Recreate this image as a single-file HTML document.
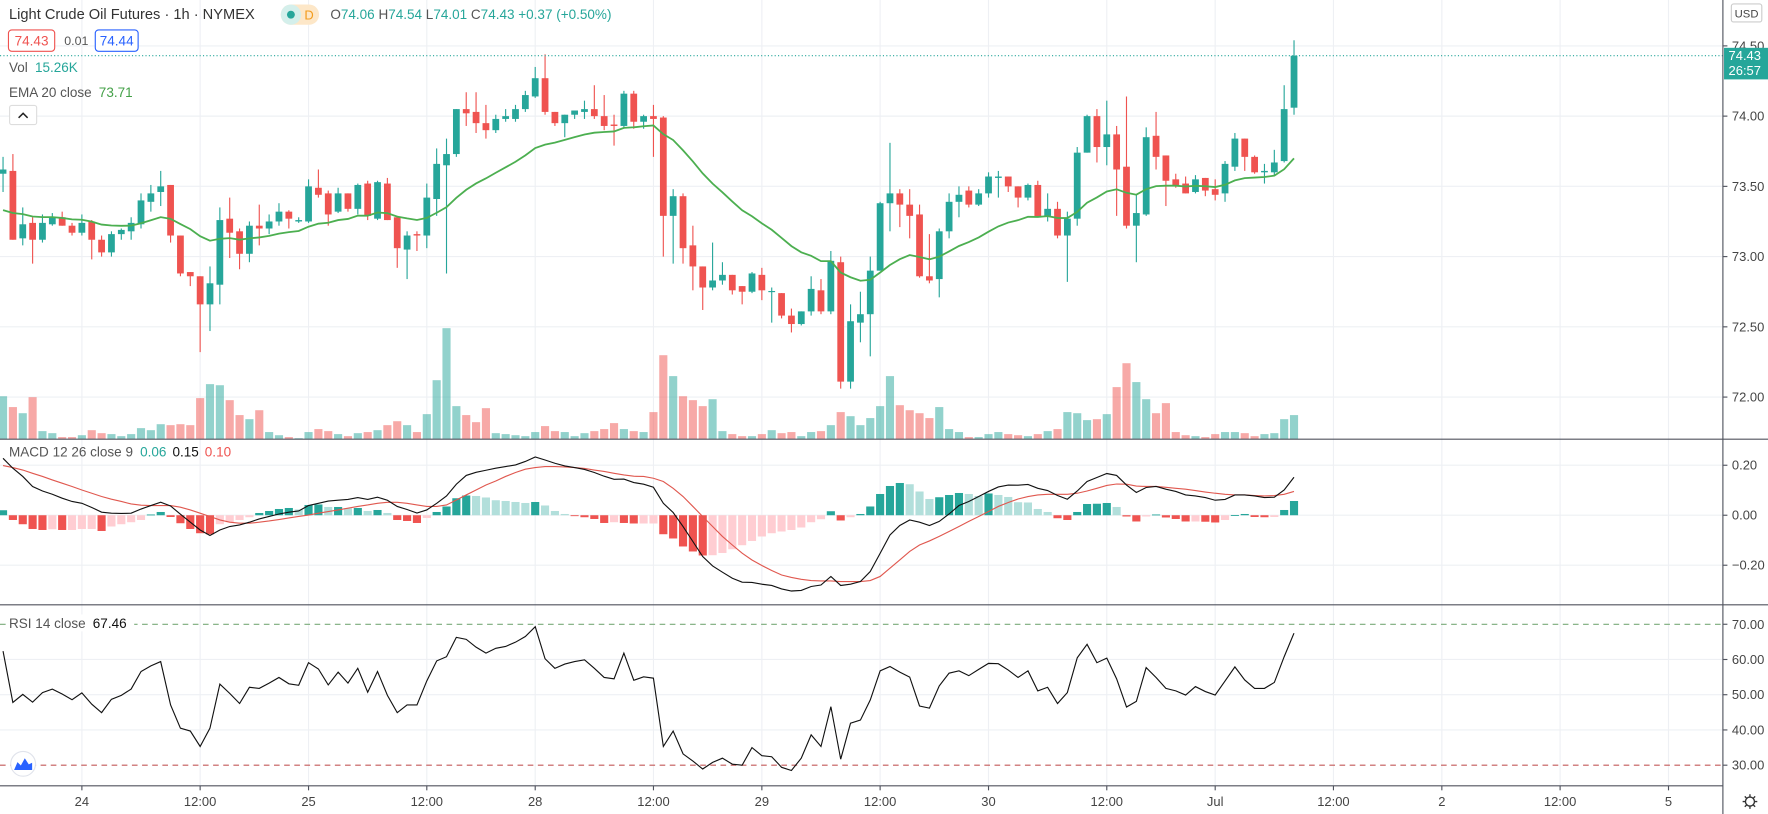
<!DOCTYPE html>
<html><head><meta charset="utf-8"><title>Light Crude Oil Futures</title>
<style>
html,body{margin:0;padding:0;background:#fff;overflow:hidden}
svg{display:block;font-family:"Liberation Sans",sans-serif}
</style></head>
<body>
<svg id="chart" width="1768" height="814" viewBox="0 0 1568 722" preserveAspectRatio="none" xmlns="http://www.w3.org/2000/svg">
<rect x="0" y="0" width="1568" height="722" fill="#ffffff"/>
<g id="grid"></g>
<g id="vol"></g>
<g id="candles"></g>
<g id="ema"></g>
<g id="macd"></g>
<g id="rsi"></g>
<g id="axes"></g>
<g id="legend">
  <text x="8" y="17" font-size="13" fill="#333">Light Crude Oil Futures · 1h · NYMEX</text>
  <rect x="249" y="4" width="34" height="18" rx="9" fill="#fde7c8"/>
  <rect x="249" y="4" width="18" height="18" rx="9" fill="#d4efeb"/>
  <circle cx="258" cy="13" r="3.5" fill="#26a69a"/>
  <text x="270" y="17.5" font-size="11.5" fill="#f29b1b">D</text>
  <text x="293" y="17" font-size="12" fill="#26a69a"><tspan fill="#555">O</tspan>74.06 <tspan fill="#555">H</tspan>74.54 <tspan fill="#555">L</tspan>74.01 <tspan fill="#555">C</tspan>74.43 +0.37 (+0.50%)</text>
  <rect x="7.5" y="26.5" width="41" height="19" rx="3" fill="#fff" stroke="#ef5350"/>
  <text x="28" y="40.5" font-size="12" fill="#ef5350" text-anchor="middle">74.43</text>
  <text x="57" y="40" font-size="11" fill="#555">0.01</text>
  <rect x="84.5" y="26.5" width="38" height="19" rx="3" fill="#fff" stroke="#2962ff"/>
  <text x="103.5" y="40.5" font-size="12" fill="#2962ff" text-anchor="middle">74.44</text>
  <text x="8" y="64" font-size="12" fill="#555">Vol <tspan fill="#26a69a" dx="3">15.26K</tspan></text>
  <text x="8" y="86" font-size="12" fill="#555">EMA 20 close <tspan fill="#43a047" dx="3">73.71</tspan></text>
  <rect x="8.5" y="93.5" width="24" height="17" rx="2" fill="#fff" stroke="#ddd"/>
  <path d="M16.5 104.5 L20.5 100.5 L24.5 104.5" fill="none" stroke="#222" stroke-width="1.3"/>
  <text x="8" y="405" font-size="12" fill="#555">MACD 12 26 close 9 <tspan fill="#26a69a" dx="3">0.06</tspan> <tspan fill="#111" dx="2">0.15</tspan> <tspan fill="#ef5350" dx="2">0.10</tspan></text>
  <rect x="6" y="545" width="113" height="15" fill="#fff"/>
  <text x="8" y="557" font-size="12" fill="#555">RSI 14 close <tspan fill="#111" dx="3">67.46</tspan></text>
  <circle cx="20.5" cy="677.5" r="11" fill="#fff" stroke="#e0e3eb"/>
  <path d="M12.5 683 L15.5 676 L18.5 679 L22 672.5 L25.5 678 L28.5 676.5 L28.5 683 Z" fill="#2962ff"/>
</g>
</svg>
<script>
const opens=[73.59,73.61,73.13,73.24,73.12,73.23,73.28,73.22,73.17,73.25,73.12,73.03,73.16,73.18,73.23,73.39,73.46,73.51,73.15,72.89,72.86,72.66,72.80,73.27,73.18,73.02,73.22,73.20,73.25,73.32,73.25,73.25,73.49,73.45,73.32,73.45,73.34,73.52,73.27,73.52,73.28,73.05,73.16,73.15,73.41,73.65,73.73,74.05,74.03,73.95,73.90,73.98,73.98,74.05,74.14,74.27,74.03,73.95,74.01,74.03,74.05,74.00,73.94,73.93,74.16,73.96,74.00,73.99,73.29,73.43,73.08,72.93,72.78,72.83,72.87,72.79,72.75,72.87,72.75,72.74,72.58,72.52,72.61,72.76,72.61,72.96,72.11,72.53,72.59,72.90,73.38,73.45,73.37,73.30,72.86,72.84,73.18,73.39,73.47,73.37,73.45,73.56,73.57,73.50,73.42,73.51,73.29,73.34,73.15,73.27,73.74,74.00,73.78,73.87,73.64,73.22,73.30,73.86,73.72,73.55,73.52,73.46,73.56,73.48,73.45,73.64,73.84,73.71,73.60,73.60,73.68,74.06];
const highs=[73.71,73.73,73.35,73.28,73.30,73.31,73.32,73.24,73.30,73.26,73.15,73.18,73.20,73.28,73.45,73.51,73.61,73.51,73.15,72.89,72.86,72.93,73.35,73.42,73.20,73.25,73.37,73.30,73.38,73.33,73.28,73.55,73.62,73.47,73.49,73.45,73.52,73.54,73.54,73.56,73.29,73.18,73.18,73.52,73.77,73.84,74.05,74.17,74.17,74.08,74.01,74.05,74.08,74.18,74.35,74.44,74.03,74.01,74.04,74.11,74.22,74.15,74.01,74.18,74.18,74.01,74.08,74.00,73.48,73.45,73.22,72.93,73.10,72.96,72.87,72.79,72.89,72.92,72.78,72.74,72.63,72.61,72.86,72.84,73.04,73.00,72.66,72.75,73.00,73.39,73.81,73.48,73.48,73.37,73.16,73.20,73.45,73.50,73.50,73.48,73.60,73.61,73.57,73.50,73.52,73.54,73.45,73.39,73.32,73.78,74.01,74.05,74.11,73.93,74.14,73.44,73.92,74.03,73.72,73.59,73.57,73.58,73.56,73.55,73.68,73.88,73.84,73.72,73.66,73.76,74.22,74.54];
const lows=[73.46,73.12,73.08,72.95,73.10,73.22,73.22,73.15,73.15,72.98,73.00,73.00,73.12,73.12,73.20,73.32,73.36,73.10,72.86,72.79,72.32,72.47,72.66,72.99,72.91,72.96,73.08,73.16,73.22,73.20,73.24,73.24,73.42,73.22,73.31,73.32,73.30,73.26,73.26,73.26,72.92,72.84,73.04,73.06,73.29,72.88,73.71,73.93,73.88,73.84,73.88,73.96,73.96,74.03,74.13,74.01,73.93,73.85,73.98,73.98,73.98,73.90,73.79,73.92,73.91,73.91,73.71,73.00,72.95,72.95,72.76,72.62,72.76,72.80,72.73,72.66,72.74,72.69,72.53,72.56,72.46,72.51,72.58,72.59,72.59,72.06,72.06,72.39,72.29,72.90,73.18,73.21,73.13,72.85,72.81,72.71,73.13,73.28,73.35,73.36,73.42,73.42,73.46,73.35,73.40,73.28,73.25,73.13,72.82,73.22,73.74,73.67,73.65,73.29,73.20,72.96,73.29,73.62,73.36,73.49,73.45,73.45,73.43,73.40,73.39,73.61,73.61,73.59,73.52,73.58,73.67,74.01];
const closes=[73.62,73.12,73.23,73.12,73.24,73.28,73.22,73.17,73.24,73.12,73.03,73.16,73.19,73.24,73.40,73.45,73.50,73.15,72.88,72.86,72.66,72.81,73.26,73.17,73.02,73.22,73.20,73.25,73.32,73.27,73.26,73.50,73.44,73.30,73.45,73.34,73.51,73.29,73.53,73.26,73.06,73.15,73.15,73.42,73.66,73.73,74.05,74.02,73.95,73.90,73.98,74.00,74.05,74.15,74.27,74.03,73.95,74.01,74.04,74.05,74.00,73.93,73.93,74.16,73.96,74.00,73.98,73.29,73.43,73.06,72.93,72.78,72.83,72.87,72.76,72.75,72.88,72.76,72.755,72.58,72.52,72.61,72.77,72.61,72.97,72.11,72.54,72.59,72.90,73.38,73.45,73.37,73.29,72.86,72.83,73.18,73.39,73.44,73.37,73.45,73.57,73.57,73.50,73.42,73.51,73.28,73.34,73.15,73.27,73.74,74.00,73.78,73.87,73.62,73.22,73.31,73.85,73.71,73.54,73.50,73.45,73.55,73.47,73.44,73.66,73.84,73.71,73.60,73.61,73.67,74.05,74.43];
const volumesK=[27.3,20.4,16.5,26.7,5.1,3.8,1.3,1.3,2.5,5.7,3.8,3.2,1.9,3.2,7.0,5.7,9.5,8.9,9.5,8.9,26.1,35.0,34.3,24.8,15.3,12.7,18.4,4.5,2.5,1.3,0.6,4.5,6.4,5.1,3.2,1.9,3.8,4.5,5.7,8.9,11.4,8.9,4.5,15.9,37.5,70.6,21.0,15.3,10.8,19.7,3.8,3.2,2.5,1.9,4.5,8.3,5.1,4.5,1.9,3.8,5.1,6.4,10.2,6.4,5.1,4.5,17.2,53.4,40.1,27.3,24.8,21.0,25.4,5.1,3.2,1.9,1.9,3.2,5.7,3.8,4.5,1.9,4.5,5.1,8.9,17.2,14.6,8.9,13.4,21.0,40.1,21.6,18.4,16.5,13.4,20.4,6.4,4.5,1.3,1.3,3.2,4.5,3.2,2.5,1.9,3.2,5.1,6.4,17.2,16.5,12.1,12.7,15.9,33.1,48.3,36.3,25.4,16.5,22.9,4.5,2.5,1.9,1.3,3.2,4.5,4.5,3.8,1.9,3.2,3.8,12.7,15.3];
const macdLine=[0.228,0.188,0.155,0.115,0.097,0.084,0.068,0.055,0.048,0.031,0.012,0.008,0.007,0.008,0.025,0.039,0.052,0.037,0.004,-0.028,-0.059,-0.081,-0.059,-0.045,-0.039,-0.028,-0.015,-0.005,0.005,0.012,0.017,0.039,0.048,0.057,0.06,0.063,0.071,0.063,0.072,0.06,0.035,0.023,0.009,0.021,0.048,0.077,0.124,0.159,0.172,0.18,0.188,0.195,0.201,0.215,0.233,0.221,0.208,0.197,0.191,0.183,0.171,0.156,0.144,0.145,0.131,0.124,0.112,0.048,0.011,-0.045,-0.105,-0.165,-0.203,-0.228,-0.252,-0.268,-0.269,-0.276,-0.281,-0.295,-0.303,-0.301,-0.285,-0.279,-0.245,-0.281,-0.276,-0.265,-0.225,-0.152,-0.079,-0.041,-0.019,-0.028,-0.041,-0.025,0.005,0.039,0.055,0.075,0.095,0.113,0.121,0.12,0.123,0.108,0.099,0.079,0.064,0.097,0.135,0.151,0.167,0.159,0.121,0.091,0.111,0.115,0.104,0.095,0.081,0.077,0.071,0.06,0.063,0.081,0.081,0.077,0.071,0.072,0.101,0.152];
const signalLine=[0.199,0.191,0.181,0.168,0.155,0.141,0.128,0.115,0.101,0.088,0.075,0.064,0.055,0.045,0.04,0.039,0.039,0.039,0.032,0.021,0.008,-0.005,-0.019,-0.028,-0.032,-0.032,-0.028,-0.023,-0.017,-0.011,-0.005,0.001,0.008,0.015,0.021,0.028,0.035,0.041,0.048,0.052,0.052,0.048,0.041,0.035,0.035,0.041,0.061,0.081,0.101,0.121,0.137,0.155,0.171,0.184,0.191,0.195,0.195,0.193,0.191,0.187,0.181,0.175,0.168,0.161,0.156,0.155,0.148,0.135,0.108,0.075,0.035,-0.005,-0.045,-0.085,-0.119,-0.152,-0.179,-0.201,-0.221,-0.239,-0.249,-0.256,-0.261,-0.263,-0.263,-0.265,-0.265,-0.265,-0.261,-0.245,-0.212,-0.179,-0.145,-0.119,-0.103,-0.085,-0.065,-0.045,-0.025,-0.005,0.015,0.035,0.051,0.065,0.075,0.081,0.084,0.084,0.084,0.088,0.097,0.108,0.119,0.125,0.124,0.117,0.115,0.115,0.112,0.108,0.104,0.099,0.093,0.088,0.084,0.081,0.081,0.079,0.077,0.079,0.084,0.095];
const histogram=[0.02,-0.019,-0.036,-0.055,-0.059,-0.056,-0.059,-0.059,-0.055,-0.055,-0.063,-0.045,-0.036,-0.028,-0.019,0.003,0.013,-0.007,-0.032,-0.055,-0.072,-0.076,-0.036,-0.028,-0.019,-0.008,0.009,0.017,0.025,0.029,0.023,0.041,0.043,0.033,0.033,0.028,0.029,0.017,0.021,0.009,-0.019,-0.023,-0.031,-0.011,0.013,0.035,0.068,0.079,0.077,0.071,0.06,0.057,0.053,0.049,0.053,0.039,0.017,0.005,-0.003,-0.008,-0.015,-0.031,-0.028,-0.031,-0.033,-0.033,-0.033,-0.076,-0.093,-0.125,-0.145,-0.161,-0.160,-0.151,-0.136,-0.12,-0.103,-0.085,-0.072,-0.065,-0.059,-0.049,-0.028,-0.016,0.016,-0.021,-0.008,0.005,0.035,0.085,0.117,0.129,0.124,0.095,0.065,0.072,0.081,0.089,0.085,0.077,0.087,0.081,0.073,0.052,0.051,0.025,0.013,-0.012,-0.019,0.013,0.045,0.046,0.049,0.033,-0.005,-0.025,-0.005,0.003,-0.009,-0.015,-0.025,-0.025,-0.026,-0.029,-0.019,0.001,0.005,-0.007,-0.008,-0.007,0.021,0.057];
const rsiValues=[62.4,47.8,50.1,47.9,50.6,51.6,50.2,48.6,50.5,47.3,44.9,48.7,49.8,51.6,56.6,58.2,59.4,47.1,40.5,39.7,35.3,40.5,53.0,50.4,47.5,52.1,51.8,53.3,54.9,53.1,52.7,59.1,57.3,52.8,56.4,53.3,57.5,50.7,56.6,49.8,44.9,47.1,47.1,53.9,59.6,60.8,66.3,65.7,63.5,61.8,63.2,63.7,64.9,66.5,69.3,60.2,57.5,58.7,59.4,59.9,57.5,54.9,54.5,61.8,54.1,55.1,54.7,35.3,39.7,33.2,31.2,28.9,30.8,32.0,30.3,30.0,35.0,32.7,32.4,29.4,28.5,32.0,38.6,35.3,46.6,31.7,41.9,42.8,48.5,56.8,58.0,56.4,55.0,46.8,46.2,52.5,56.1,56.8,55.4,57.2,58.9,58.8,57.0,54.9,56.8,51.1,52.1,47.5,50.6,60.5,64.3,59.1,60.4,54.5,46.5,48.1,57.7,54.9,51.8,51.1,49.9,52.3,50.9,49.9,53.9,57.9,54.2,51.8,51.8,53.5,60.8,67.46];
const priceTicks=[74.5,74.0,73.5,73.0,72.5,72.0];
const macdTicks=[0.2,0,-0.2];
const rsiTicks=[70,60,50,40,30];
const timeTickIdx=[8,20,31,43,54,66,77,89,100,112,123,135,146,158,169];
const timeTickLabels=["24","12:00","25","12:00","28","12:00","29","12:00","30","12:00","Jul","12:00","2","12:00","5"];
const lastPrice=74.43, emaPeriod=20, emaSeed=73.30;

const NS="http://www.w3.org/2000/svg";
const GREEN="#26a69a", RED="#ef5350";
const xOf=i=>2.7+8.74*i;
const yPrice=p=>103-(p-74)*124.6;
const yVol=v=>389.5-v*1.394;
const yMacd=v=>457-v*221.7;
const yRsi=v=>553.7+(70-v)*3.125;
const AXIS_X=1528, PANE1=389.5, PANE2=536.5, TIME_Y=697;
function mk(tag,attrs,parent){const e=document.createElementNS(NS,tag);for(const k in attrs)e.setAttribute(k,attrs[k]);parent.appendChild(e);return e;}
const G=id=>document.getElementById(id);

const grid=G('grid');
timeTickIdx.forEach((ti,k)=>{
  const l=mk('line',{x1:xOf(ti),x2:xOf(ti),y1:0,y2:TIME_Y,stroke:'#eef0f4','stroke-width':1},grid);
  
  
});
priceTicks.forEach(p=>{
  const l=mk('line',{x1:0,x2:AXIS_X,y1:yPrice(p),y2:yPrice(p),stroke:'#eef0f4','stroke-width':1},grid);
  
  
});
macdTicks.forEach(v=>{
  const l=mk('line',{x1:0,x2:AXIS_X,y1:yMacd(v),y2:yMacd(v),stroke:'#eef0f4','stroke-width':1},grid);
  
  
});
rsiTicks.forEach(v=>{
  let st={x1:0,x2:AXIS_X,y1:yRsi(v),y2:yRsi(v),stroke:'#eef0f4','stroke-width':1};
  if(v===70){st.stroke='#7aab7a';st['stroke-dasharray']='5,4';}
  if(v===30){st.stroke='#c45a5a';st['stroke-dasharray']='5,4';}
  const l=mk('line',st,grid);
  
  
});

const vol=G('vol');
volumesK.forEach((v,i)=>{
  const up=closes[i]>=opens[i];
  const r=mk('rect',{x:xOf(i)-3.6,y:yVol(v),width:7.2,height:PANE1-yVol(v),fill:up?'rgba(38,166,154,0.5)':'rgba(239,83,80,0.5)'},vol);
  
  
});

const cg=G('candles');
opens.forEach((o,i)=>{
  const c=closes[i],up=c>=o,col=up?GREEN:RED,x=xOf(i);
  const w=mk('line',{x1:x,x2:x,y1:yPrice(highs[i]),y2:yPrice(lows[i]),stroke:col,'stroke-width':1},cg);
  
  
  const top=yPrice(Math.max(o,c)),bot=yPrice(Math.min(o,c));
  const b=mk('rect',{x:x-3,y:top,width:6,height:Math.max(1,bot-top),fill:col},cg);
  
  
});

let prev=emaSeed;const a=2/(emaPeriod+1);const emaPts=[];
closes.forEach((c,i)=>{prev=prev+a*(c-prev);emaPts.push(xOf(i).toFixed(1)+','+yPrice(prev).toFixed(1));});
const ep=mk('polyline',{points:emaPts.join(' '),fill:'none',stroke:'#4caf50','stroke-width':1.6},G('ema'));



const lp=mk('line',{x1:0,x2:AXIS_X,y1:yPrice(lastPrice),y2:yPrice(lastPrice),stroke:GREEN,'stroke-width':1,'stroke-dasharray':'1,2'},G('ema'));



const mg=G('macd');
histogram.forEach((v,i)=>{
  const p=i>0?histogram[i-1]:v;let col;
  if(v>=0)col=v>=p?GREEN:'#b2dfdb';else col=v<p?RED:'#ffcdd2';
  const y0=yMacd(0),y1=yMacd(v);
  const r=mk('rect',{x:xOf(i)-3.6,y:Math.min(y0,y1),width:7.2,height:Math.max(0.8,Math.abs(y1-y0)),fill:col},mg);
  
  
});
const sl=mk('polyline',{points:signalLine.map((v,i)=>xOf(i).toFixed(1)+','+yMacd(v).toFixed(1)).join(' '),fill:'none',stroke:'#e0584f','stroke-width':1},mg);


const ml=mk('polyline',{points:macdLine.map((v,i)=>xOf(i).toFixed(1)+','+yMacd(v).toFixed(1)).join(' '),fill:'none',stroke:'#111','stroke-width':1},mg);



const rl=mk('polyline',{points:rsiValues.map((v,i)=>xOf(i).toFixed(1)+','+yRsi(v).toFixed(1)).join(' '),fill:'none',stroke:'#111','stroke-width':1},G('rsi'));



const ax=G('axes');
function axLine(x1,y1,x2,y2,name){const l=mk('line',{x1,y1,x2,y2,stroke:'#50535e','stroke-width':1},ax);}
axLine(AXIS_X,0,AXIS_X,722,'price-axis-line');
axLine(0,PANE1,1568,PANE1,'pane-separator-volume-macd');
axLine(0,PANE2,1568,PANE2,'pane-separator-macd-rsi');
axLine(0,TIME_Y,AXIS_X,TIME_Y,'time-axis-line');
function axLabel(y,txt,name){
  const t=mk('line',{x1:AXIS_X,x2:AXIS_X+4,y1:y,y2:y,stroke:'#50535e'},ax);
  
  
  const e=mk('text',{x:1536,y:y+4,'font-size':'11.5',fill:'#444'},ax);e.textContent=txt;
  
  
}
priceTicks.forEach(p=>axLabel(yPrice(p),p.toFixed(2),'price-tick-label'));
macdTicks.forEach(v=>axLabel(yMacd(v),(v<0?'\u2212':'')+Math.abs(v).toFixed(2),'macd-tick-label'));
rsiTicks.forEach(v=>axLabel(yRsi(v),v.toFixed(2),'rsi-tick-label'));
timeTickIdx.forEach((ti,k)=>{
  const t=mk('line',{x1:xOf(ti),x2:xOf(ti),y1:TIME_Y,y2:TIME_Y+4,stroke:'#50535e'},ax);
  
  
  const e=mk('text',{x:xOf(ti),y:715,'font-size':'11.5',fill:'#444','text-anchor':'middle'},ax);e.textContent=timeTickLabels[k];
  
  
});
const lb=mk('rect',{x:1529,y:yPrice(lastPrice)-7,width:39,height:28,fill:GREEN},ax);


const lt=mk('text',{x:1533,y:yPrice(lastPrice)+4,'font-size':'11.5',fill:'#fff'},ax);lt.textContent=lastPrice.toFixed(2);


const ct=mk('text',{x:1533,y:yPrice(lastPrice)+17,'font-size':'11.5',fill:'#fff'},ax);ct.textContent='26:57';


const ub=mk('rect',{x:1535.5,y:3.5,width:27,height:16,rx:2,fill:'#fff',stroke:'#ccc'},ax);


const ut=mk('text',{x:1549,y:15.5,'font-size':'10','text-anchor':'middle',fill:'#444'},ax);ut.textContent='USD';


const gc=mk('circle',{cx:1552,cy:711,r:4,fill:'none',stroke:'#333','stroke-width':1.2},ax);


const gs=mk('path',{d:'M1552 704.5v2.5M1552 715v2.5M1545.5 711h2.5M1556 711h2.5M1547.4 706.4l1.8 1.8M1554.8 713.8l1.8 1.8M1547.4 715.6l1.8-1.8M1554.8 708.2l1.8-1.8',stroke:'#333','stroke-width':1.2},ax);


</script>
</body></html>
